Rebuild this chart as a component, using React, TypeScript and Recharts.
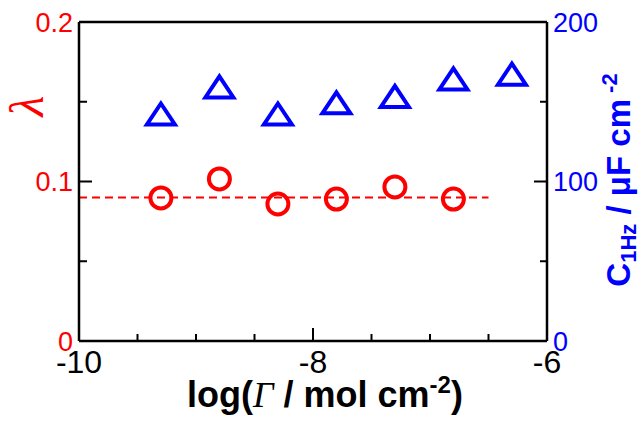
import React from 'react';
import { ComposedChart, Scatter, XAxis, YAxis, ReferenceLine, Label } from 'recharts';

// lambda (left axis) vs log(Gamma)
const lambdaX = [-9.3, -8.8, -8.3, -7.8, -7.3, -6.8];
const lambdaY = [0.0897, 0.1016, 0.0859, 0.089, 0.0966, 0.089];
// C_1Hz (right axis) vs log(Gamma)
const capX = [-9.3, -8.8, -8.3, -7.8, -7.3, -6.8, -6.3];
const capY = [142, 159, 142, 149, 153, 164, 167];
// dashed mean line of lambda
const fitX = [-10, -6.5];
const fitY = [0.09, 0.09];

const xTicks = [-10, -9.5, -9, -8.5, -8, -7.5, -7, -6.5, -6];
const xMajor = [-10, -8, -6];
const leftTicks = [0, 0.05, 0.1, 0.15, 0.2];
const leftMajor = [0, 0.1, 0.2];
const leftLabels = ['0', '0.1', '0.2'];
const rightTicks = [0, 50, 100, 150, 200];
const rightMajor = [0, 100, 200];

const RED = '#ff0000';
const BLUE = '#0000ff';
const FONT = '"Liberation Sans", Arial, sans-serif';

const lambdaData = lambdaX.map((x, i) => ({ x, y: lambdaY[i] }));
const capData = capX.map((x, i) => ({ x, y: capY[i] }));

const BottomTick = (props: any) => {
  const { x, y, payload } = props;
  const major = xMajor.includes(payload.value);
  return (
    <g>
      <line x1={x} x2={x} y1={y} y2={y - (major ? 13 : 7)} stroke="#000" strokeWidth={2} />
      {major && (
        <text x={x} y={y + 32} textAnchor="middle" fontSize={32} fontFamily={FONT} fill="#000">
          {String(payload.value)}
        </text>
      )}
    </g>
  );
};

const TopTick = (props: any) => {
  const { x, y, payload } = props;
  const major = xMajor.includes(payload.value);
  return <line x1={x} x2={x} y1={y} y2={y + (major ? 13 : 7)} stroke="#000" strokeWidth={2} />;
};

const LeftTick = (props: any) => {
  const { x, y, payload } = props;
  const idx = leftMajor.indexOf(payload.value);
  const major = idx >= 0;
  return (
    <g>
      <line x1={x} x2={x + (major ? 13 : 8)} y1={y} y2={y} stroke="#000" strokeWidth={2} />
      {major && (
        <text x={x - 6} y={y + 9.5} textAnchor="end" fontSize={27} fontFamily={FONT} fill={RED}>
          {leftLabels[idx]}
        </text>
      )}
    </g>
  );
};

const RightTick = (props: any) => {
  const { x, y, payload } = props;
  const major = rightMajor.includes(payload.value);
  return (
    <g>
      <line x1={x} x2={x - (major ? 13 : 7)} y1={y} y2={y} stroke="#000" strokeWidth={2} />
      {major && (
        <text x={x + 6} y={y + 9.5} textAnchor="start" fontSize={27} fontFamily={FONT} fill={BLUE}>
          {String(payload.value)}
        </text>
      )}
    </g>
  );
};

const CircleShape = (props: any) => (
  <circle cx={props.cx} cy={props.cy} r={10.5} fill="none" stroke={RED} strokeWidth={4} />
);

const TriangleShape = (props: any) => {
  const { cx, cy } = props;
  const d = `M${cx},${cy - 11} L${cx + 14},${cy + 10} L${cx - 14},${cy + 10} Z`;
  return <path d={d} fill="none" stroke={BLUE} strokeWidth={4} strokeLinejoin="miter" />;
};

const XTitle = (props: any) => {
  const vb = props.viewBox || { x: 79, y: 341, width: 468 };
  const cx = vb.x + vb.width / 2 + 12;
  return (
    <text x={cx} y={vb.y + 66} textAnchor="middle" fontSize={36} fontFamily={FONT} fontWeight="bold" fill="#000">
      <tspan>log(</tspan>
      <tspan fontFamily='"Liberation Serif", serif' fontStyle="italic" fontWeight="normal">Γ</tspan>
      <tspan> / mol cm</tspan>
      <tspan fontSize={24} dy={-14}>-2</tspan>
      <tspan dy={14}>)</tspan>
    </text>
  );
};

const LeftTitle = () => (
  <text
    transform="translate(43, 106) rotate(-90)"
    textAnchor="middle"
    fontSize={48}
    fontFamily='"Liberation Serif", serif'
    fontStyle="italic"
    fill={RED}
  >
    λ
  </text>
);

const RightTitle = () => (
  <text
    transform="translate(630, 180) rotate(-90)"
    textAnchor="middle"
    fontSize={33}
    fontFamily={FONT}
    fontWeight="bold"
    fill={BLUE}
  >
    <tspan>C</tspan>
    <tspan fontSize={22} dy={6}>1Hz</tspan>
    <tspan dy={-6}> / μF cm</tspan>
    <tspan fontSize={22} dy={-13}> -2</tspan>
  </text>
);

export default function App() {
  return (
    <div style={{ position: 'absolute', left: 0, top: 0, width: 644, height: 428, background: '#fff' }}>
      <ComposedChart width={644} height={428} margin={{ top: 0, right: 0, bottom: 0, left: 0 }}>
        <XAxis
          xAxisId="bottom"
          type="number"
          dataKey="x"
          domain={[-10, -6]}
          ticks={xTicks}
          interval={0}
          orientation="bottom"
          height={87}
          tickSize={0}
          tickMargin={0}
          tickLine={false}
          axisLine={{ stroke: '#000', strokeWidth: 2.5 }}
          tick={<BottomTick />}
        >
          <Label content={<XTitle />} />
        </XAxis>
        <XAxis
          xAxisId="top"
          type="number"
          dataKey="x"
          domain={[-10, -6]}
          ticks={xTicks}
          interval={0}
          orientation="top"
          height={22}
          tickSize={0}
          tickMargin={0}
          tickLine={false}
          axisLine={{ stroke: '#000', strokeWidth: 2.5 }}
          tick={<TopTick />}
        />
        <YAxis
          yAxisId="left"
          type="number"
          dataKey="y"
          domain={[0, 0.2]}
          ticks={leftTicks}
          interval={0}
          orientation="left"
          width={79}
          tickSize={0}
          tickMargin={0}
          tickLine={false}
          axisLine={{ stroke: '#000', strokeWidth: 2.5 }}
          tick={<LeftTick />}
        >
          <Label content={<LeftTitle />} />
        </YAxis>
        <YAxis
          yAxisId="right"
          type="number"
          dataKey="y"
          domain={[0, 200]}
          ticks={rightTicks}
          interval={0}
          orientation="right"
          width={97}
          tickSize={0}
          tickMargin={0}
          tickLine={false}
          axisLine={{ stroke: '#000', strokeWidth: 2.5 }}
          tick={<RightTick />}
        >
          <Label content={<RightTitle />} />
        </YAxis>
        <ReferenceLine
          xAxisId="bottom"
          yAxisId="left"
          segment={[
            { x: fitX[0], y: fitY[0] },
            { x: fitX[1], y: fitY[1] },
          ]}
          stroke={RED}
          strokeWidth={2}
          strokeDasharray="8 5"
        />
        <Scatter
          xAxisId="bottom"
          yAxisId="left"
          data={lambdaData}
          shape={<CircleShape />}
          isAnimationActive={false}
        />
        <Scatter
          xAxisId="bottom"
          yAxisId="right"
          data={capData}
          shape={<TriangleShape />}
          isAnimationActive={false}
        />
      </ComposedChart>
    </div>
  );
}
